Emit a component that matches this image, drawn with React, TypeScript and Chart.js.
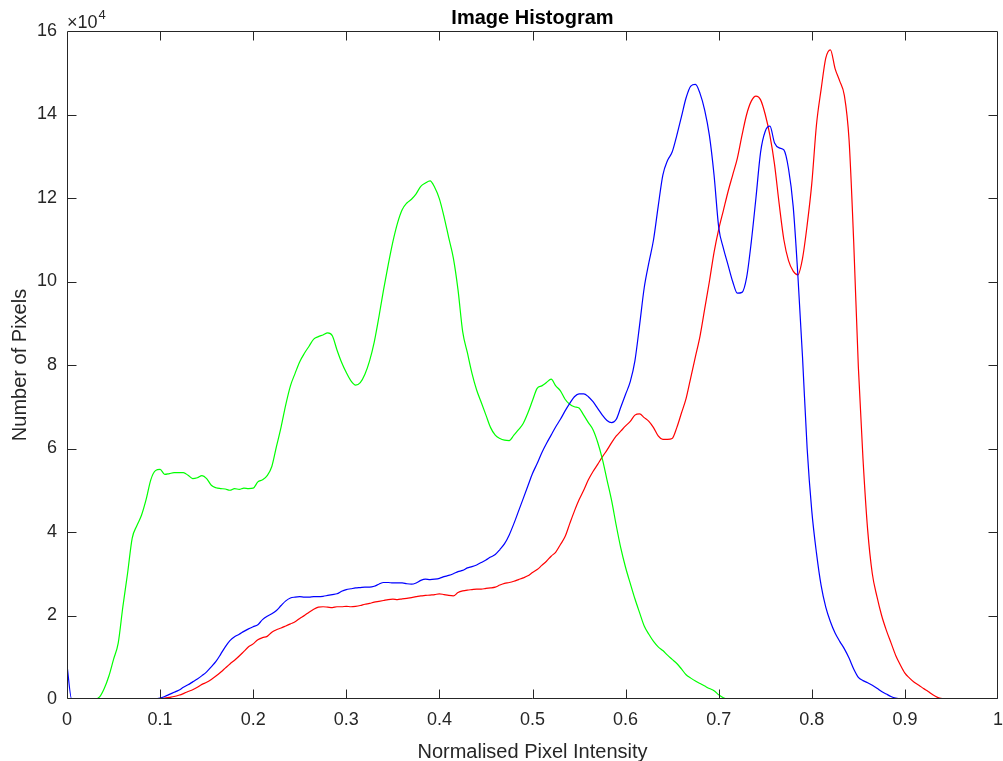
import React, { useEffect, useRef } from "react";
import { Chart, registerables } from "chart.js";

Chart.register(...registerables);

// Histogram bin width along the normalised intensity axis
const BIN_STEP = 0.005;

// Pixel counts per bin, in units of 10^4 pixels (bins at 0, 0.005, 0.01, ... 1)
const redCounts = [
  0, 0, 0, 0, 0, 0, 0, 0, 0, 0,
  0, 0, 0, 0, 0, 0, 0, 0, 0, 0,
  0.01, 0.02, 0.04, 0.06, 0.09, 0.13, 0.18, 0.22, 0.28, 0.35,
  0.40, 0.47, 0.55, 0.64, 0.74, 0.84, 0.93, 1.03, 1.14, 1.25,
  1.32, 1.42, 1.47, 1.50, 1.60, 1.66, 1.70, 1.75, 1.80, 1.85,
  1.93, 2.00, 2.08, 2.15, 2.20, 2.21, 2.20, 2.19, 2.21, 2.21,
  2.22, 2.21, 2.22, 2.24, 2.27, 2.29, 2.32, 2.34, 2.36, 2.38,
  2.39, 2.38, 2.40, 2.41, 2.43, 2.45, 2.47, 2.48, 2.49, 2.50,
  2.52, 2.50, 2.48, 2.47, 2.55, 2.59, 2.61, 2.62, 2.63, 2.63,
  2.65, 2.66, 2.68, 2.73, 2.77, 2.79, 2.82, 2.86, 2.90, 2.95,
  3.03, 3.10, 3.20, 3.30, 3.42, 3.52, 3.70, 3.89, 4.20, 4.50,
  4.77, 5.00, 5.25, 5.45, 5.62, 5.80, 5.96, 6.14, 6.30, 6.42,
  6.54, 6.65, 6.80, 6.83, 6.74, 6.65, 6.50, 6.30, 6.22, 6.22,
  6.24, 6.50, 6.85, 7.20, 7.70, 8.20, 8.70, 9.35, 10.00, 10.70,
  11.25, 11.70, 12.15, 12.55, 12.95, 13.50, 14.00, 14.32, 14.44, 14.35,
  14.00, 13.50, 12.80, 11.85, 11.00, 10.50, 10.25, 10.16, 10.55, 11.35,
  12.35, 13.75, 14.60, 15.35, 15.55, 15.10, 14.80, 14.45, 13.40, 10.95,
  7.95, 5.75, 4.05, 3.00, 2.45, 2.00, 1.65, 1.35, 1.05, 0.82,
  0.62, 0.50, 0.40, 0.33, 0.25, 0.18, 0.10, 0.04, 0.01, 0,
  0, 0, 0, 0, 0, 0, 0, 0, 0, 0,
  0,
];

const greenCounts = [
  0, 0, 0, 0, 0, 0, 0, 0.05, 0.25, 0.55,
  0.95, 1.34, 2.21, 3.00, 3.85, 4.15, 4.40, 4.78, 5.25, 5.47,
  5.50, 5.38, 5.40, 5.42, 5.42, 5.42, 5.36, 5.28, 5.30, 5.35,
  5.28, 5.12, 5.06, 5.04, 5.03, 5.00, 5.04, 5.02, 5.05, 5.04,
  5.05, 5.20, 5.25, 5.35, 5.57, 6.05, 6.52, 7.05, 7.50, 7.80,
  8.08, 8.28, 8.45, 8.62, 8.68, 8.72, 8.77, 8.70, 8.36, 8.06,
  7.82, 7.62, 7.52, 7.58, 7.78, 8.10, 8.55, 9.15, 9.80, 10.40,
  10.95, 11.40, 11.72, 11.88, 11.97, 12.10, 12.28, 12.36, 12.41, 12.25,
  11.98, 11.55, 11.05, 10.56, 9.80, 8.80, 8.30, 7.80, 7.40, 7.10,
  6.80, 6.50, 6.32, 6.24, 6.20, 6.19, 6.32, 6.45, 6.60, 6.85,
  7.15, 7.44, 7.50, 7.58, 7.66, 7.50, 7.38, 7.18, 7.06, 7.00,
  6.97, 6.80, 6.62, 6.45, 6.15, 5.75, 5.25, 4.75, 4.15, 3.60,
  3.15, 2.77, 2.40, 2.07, 1.75, 1.55, 1.38, 1.25, 1.16, 1.05,
  0.95, 0.85, 0.72, 0.58, 0.50, 0.43, 0.37, 0.31, 0.25, 0.20,
  0.10, 0.03, 0, 0, 0, 0, 0, 0, 0, 0,
  0, 0, 0, 0, 0, 0, 0, 0, 0, 0,
  0, 0, 0, 0, 0, 0, 0, 0, 0, 0,
  0, 0, 0, 0, 0, 0, 0, 0, 0, 0,
  0, 0, 0, 0, 0, 0, 0, 0, 0, 0,
  0, 0, 0, 0, 0, 0, 0, 0, 0, 0,
  0,
];

const blueCounts = [
  0.81, 0, 0, 0, 0, 0, 0, 0, 0, 0,
  0, 0, 0, 0, 0, 0, 0, 0, 0, 0,
  0.02, 0.06, 0.11, 0.16, 0.21, 0.28, 0.34, 0.41, 0.48, 0.56,
  0.65, 0.77, 0.90, 1.07, 1.25, 1.40, 1.49, 1.55, 1.62, 1.68,
  1.73, 1.78, 1.90, 1.98, 2.04, 2.12, 2.24, 2.35, 2.42, 2.44,
  2.45, 2.44, 2.44, 2.45, 2.45, 2.46, 2.48, 2.50, 2.52, 2.58,
  2.62, 2.64, 2.66, 2.67, 2.68, 2.68, 2.70, 2.75, 2.79, 2.79,
  2.78, 2.78, 2.78, 2.76, 2.75, 2.78, 2.84, 2.87, 2.86, 2.87,
  2.89, 2.93, 2.96, 3.00, 3.05, 3.08, 3.14, 3.17, 3.21, 3.27,
  3.33, 3.40, 3.46, 3.58, 3.72, 3.93, 4.20, 4.50, 4.80, 5.10,
  5.40, 5.64, 5.90, 6.12, 6.32, 6.52, 6.70, 6.90, 7.08, 7.24,
  7.31, 7.31, 7.24, 7.12, 6.96, 6.80, 6.67, 6.62, 6.70, 7.00,
  7.30, 7.60, 8.10, 8.95, 9.85, 10.45, 11.00, 11.80, 12.55, 12.90,
  13.10, 13.50, 13.95, 14.40, 14.68, 14.72, 14.50, 14.10, 13.50, 12.55,
  11.30, 10.80, 10.40, 10.00, 9.72, 9.74, 10.10, 10.95, 12.00, 13.10,
  13.60, 13.72, 13.32, 13.20, 13.15, 12.70, 11.80, 10.16, 8.20, 6.00,
  4.50, 3.50, 2.72, 2.20, 1.85, 1.58, 1.38, 1.20, 0.98, 0.72,
  0.52, 0.44, 0.39, 0.33, 0.26, 0.18, 0.12, 0.06, 0.02, 0,
  0, 0, 0, 0, 0, 0, 0, 0, 0, 0,
  0, 0, 0, 0, 0, 0, 0, 0, 0, 0,
  0,
];

const intensity = redCounts.map((_, i) => Math.round(i * BIN_STEP * 1000) / 1000);

const xTickValues = [0, 0.1, 0.2, 0.3, 0.4, 0.5, 0.6, 0.7, 0.8, 0.9, 1];
const yTickValues = [0, 2, 4, 6, 8, 10, 12, 14, 16];

const TITLE = "Image Histogram";
const X_LABEL = "Normalised Pixel Intensity";
const Y_LABEL = "Number of Pixels";
const EXP_BASE = "\u00d710";
const EXP_POWER = "4";

const FONT = '"Liberation Sans", Arial, Helvetica, sans-serif';
const AXIS_COLOR = "#262626";

const matlabAxes = {
  id: "matlabAxes",
  afterDraw(chart: any) {
    const { ctx, chartArea, scales } = chart;
    const { left, right, top, bottom } = chartArea;
    const xs = scales.x;
    const ys = scales.y;
    const L = Math.floor(left) + 0.5;
    const R = Math.floor(right) - 0.5;
    const T = Math.floor(top) + 0.5;
    const B = Math.floor(bottom) - 0.5;
    const tick = 9;
    ctx.save();
    ctx.strokeStyle = AXIS_COLOR;
    ctx.lineWidth = 1;
    ctx.beginPath();
    ctx.rect(L, T, R - L, B - T);
    xTickValues.forEach((v) => {
      const px = Math.round(xs.getPixelForValue(v)) + 0.5;
      if (v === 0 || v === 1) return;
      ctx.moveTo(px, B);
      ctx.lineTo(px, B - tick);
      ctx.moveTo(px, T);
      ctx.lineTo(px, T + tick);
    });
    yTickValues.forEach((v) => {
      const py = Math.round(ys.getPixelForValue(v)) + 0.5;
      if (v === 0 || v === 16) return;
      ctx.moveTo(L, py);
      ctx.lineTo(L + tick, py);
      ctx.moveTo(R, py);
      ctx.lineTo(R - tick, py);
    });
    ctx.stroke();

    const cx = (left + right) / 2;
    ctx.fillStyle = "#000000";
    ctx.textAlign = "center";
    ctx.textBaseline = "alphabetic";
    ctx.font = `bold 20px ${FONT}`;
    ctx.fillText(TITLE, cx, 24);

    ctx.fillStyle = AXIS_COLOR;
    ctx.font = `20px ${FONT}`;
    ctx.fillText(X_LABEL, cx, 758);

    ctx.save();
    ctx.translate(26, (top + bottom) / 2);
    ctx.rotate(-Math.PI / 2);
    ctx.fillText(Y_LABEL, 0, 0);
    ctx.restore();

    ctx.textAlign = "left";
    ctx.font = `18px ${FONT}`;
    ctx.fillText(EXP_BASE, 67, 28);
    const w = ctx.measureText(EXP_BASE).width;
    ctx.font = `13px ${FONT}`;
    ctx.fillText(EXP_POWER, 67 + w + 1, 19);
    ctx.restore();
  },
};

export default function App() {
  const canvasRef = useRef<HTMLCanvasElement | null>(null);

  useEffect(() => {
    document.body.style.margin = "0";
    const canvas = canvasRef.current;
    if (!canvas) return;
    const mk = (arr: number[]) => arr.map((v, i) => ({ x: intensity[i], y: v }));
    const lineStyle = {
      borderWidth: 1.2,
      pointRadius: 0,
      fill: false,
      tension: 0,
      cubicInterpolationMode: "monotone" as const,
    };
    const chart = new Chart(canvas, {
      type: "line",
      data: {
        datasets: [
          { label: "Blue", data: mk(blueCounts), borderColor: "#0000ff", ...lineStyle },
          { label: "Green", data: mk(greenCounts), borderColor: "#00ff00", ...lineStyle },
          { label: "Red", data: mk(redCounts), borderColor: "#ff0000", ...lineStyle },
        ],
      },
      options: {
        animation: false,
        responsive: false,
        devicePixelRatio: 1,
        layout: { padding: { left: 0, right: 5, top: 31, bottom: 0 } },
        plugins: {
          legend: { display: false },
          title: { display: false },
          tooltip: { enabled: false },
        },
        scales: {
          x: {
            type: "linear",
            min: 0,
            max: 1,
            afterBuildTicks: (s: any) => {
              s.ticks = xTickValues.map((v) => ({ value: v }));
            },
            afterFit: (s: any) => {
              s.height = 62;
              s.paddingLeft = 0;
              s.paddingRight = 0;
            },
            ticks: {
              autoSkip: false,
              maxRotation: 0,
              padding: 10,
              color: AXIS_COLOR,
              font: { family: FONT, size: 18 },
              callback: (v: any) => String(v),
            },
            grid: { display: false, drawTicks: false },
            border: { display: false },
          },
          y: {
            type: "linear",
            min: 0,
            max: 16,
            afterBuildTicks: (s: any) => {
              s.ticks = yTickValues.map((v) => ({ value: v }));
            },
            afterFit: (s: any) => {
              s.width = 67;
              s.paddingTop = 0;
              s.paddingBottom = 0;
            },
            ticks: {
              autoSkip: false,
              padding: 10,
              color: AXIS_COLOR,
              font: { family: FONT, size: 18 },
              callback: (v: any) => String(v),
            },
            grid: { display: false, drawTicks: false },
            border: { display: false },
          },
        },
      },
      plugins: [matlabAxes],
    });
    return () => chart.destroy();
  }, []);

  return (
    <div style={{ width: 1003, height: 761, background: "#ffffff" }}>
      <canvas ref={canvasRef} width={1003} height={761} style={{ display: "block" }} />
    </div>
  );
}
